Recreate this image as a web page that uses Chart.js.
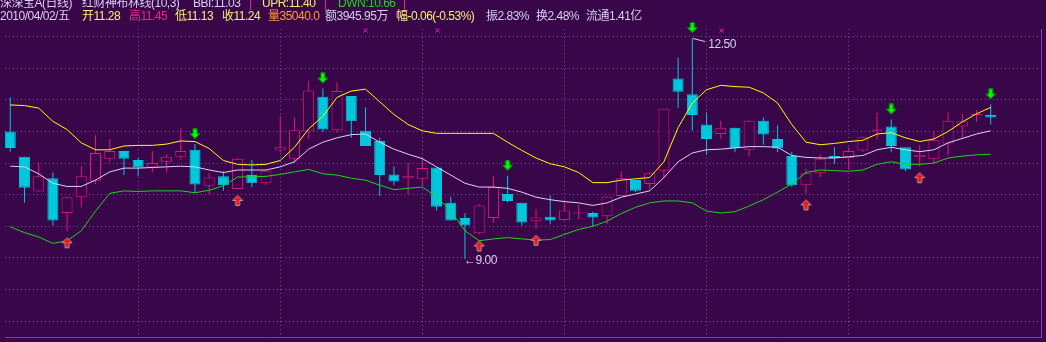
<!DOCTYPE html>
<html>
<head>
<meta charset="utf-8">
<script src="https://cdn.jsdelivr.net/npm/chart.js@4/dist/chart.umd.min.js"></script>
<style>
html, body { margin: 0; padding: 0; background: #39064a; }
#box { position: relative; width: 1046px; height: 342px; overflow: hidden; background: #39064a; }
#box canvas { position: absolute; left: 0; top: 0; }
.t { position: absolute; font: 12px "Liberation Sans", "Noto Sans CJK SC", sans-serif; line-height: 12px; white-space: nowrap; letter-spacing: -0.5px; }
.l1 { top: -3px; }
.l2 { top: 10px; }
.lav { color: #d8d0f0; }
.yel { color: #f4f070; }
.red { color: #e8287e; }
.org { color: #ff9a30; }
.grn { color: #10e010; }
.sep { color: #e0308a; }
</style>
</head>
<body>
<div id="box">
  <canvas id="kline" width="1046" height="342"></canvas>

  <div class="t l1 lav" style="left:0px">深深宝A(日线)</div>
  <div class="t l1 lav" style="left:82px">红财神布林线(10,3)</div>
  <div class="t l1 lav" style="left:193px">BBI:11.03</div>
  <div class="t l1 sep" style="left:249px">|</div>
  <div class="t l1 yel" style="left:262px">UPR:11.40</div>
  <div class="t l1 sep" style="left:324px">|</div>
  <div class="t l1 grn" style="left:338px">DWN:10.66</div>
  <div class="t l1 sep" style="left:403px">|</div>

  <div class="t l2 lav" style="left:0px">2010/04/02/五</div>
  <div class="t l2 yel" style="left:82px">开11.28</div>
  <div class="t l2 red" style="left:129px">高11.45</div>
  <div class="t l2 yel" style="left:175px">低11.13</div>
  <div class="t l2 yel" style="left:222px">收11.24</div>
  <div class="t l2 org" style="left:268px">量35040.0</div>
  <div class="t l2 lav" style="left:325px">额3945.95万</div>
  <div class="t l2 yel" style="left:396px">幅-0.06(-0.53%)</div>
  <div class="t l2 lav" style="left:486px">振2.83%</div>
  <div class="t l2 lav" style="left:536px">换2.48%</div>
  <div class="t l2 lav" style="left:586px">流通1.41亿</div>

  <div class="t lav" id="hiLabel"></div>
  <div class="t lav" id="loLabel"></div>
</div>

<script>
'use strict';

// daily candles, oldest first
const opens = [
  11.02, 10.62, 10.07, 10.28, 9.73, 9.98, 10.24, 10.59, 10.71, 10.57,
  10.45, 10.54, 10.62, 10.73, 10.16, 10.31, 10.11, 10.33, 10.20, 10.72,
  10.59, 11.02, 11.57, 11.04, 11.58, 11.03, 10.87, 10.34, 10.28, 10.27,
  10.45, 9.89, 9.65, 9.41, 9.65, 10.03, 9.89, 9.60, 9.67, 9.62,
  9.72, 9.73, 9.68, 10.00, 10.25, 10.19, 10.40, 11.86, 11.61, 11.13,
  10.98, 11.08, 10.73, 11.19, 10.90, 10.63, 10.17, 10.36, 10.63, 10.60,
  10.72, 11.03, 11.10, 10.77, 10.61, 10.58, 10.83, 11.10, 11.28, 11.28
];
const highs = [
  11.56, 10.62, 10.52, 10.37, 9.98, 10.47, 10.96, 10.90, 10.71, 10.60,
  10.71, 10.66, 11.07, 10.82, 10.37, 10.39, 10.60, 10.57, 10.40, 11.26,
  11.24, 11.82, 11.70, 11.80, 11.58, 11.40, 10.92, 10.47, 10.52, 10.62,
  10.45, 9.99, 9.73, 9.87, 10.31, 10.32, 9.89, 9.79, 10.01, 9.94,
  9.86, 9.75, 9.99, 10.39, 10.25, 10.38, 11.38, 12.19, 12.50, 11.32,
  11.19, 11.08, 11.20, 11.24, 11.12, 10.70, 10.43, 10.66, 10.77, 10.77,
  10.94, 11.32, 11.21, 10.77, 10.80, 11.03, 11.32, 11.30, 11.36, 11.45
];
const lows = [
  10.70, 9.89, 10.07, 9.53, 9.44, 9.82, 10.19, 10.54, 10.33, 10.31,
  10.37, 10.37, 10.57, 10.05, 10.03, 10.08, 10.11, 10.14, 10.17, 10.69,
  10.52, 10.90, 11.01, 11.00, 10.92, 10.79, 10.00, 10.17, 10.02, 10.17,
  9.77, 9.61, 9.00, 9.39, 9.57, 9.90, 9.53, 9.48, 9.55, 9.62,
  9.63, 9.51, 9.55, 10.00, 10.06, 10.10, 10.28, 11.39, 11.03, 10.65,
  10.90, 10.69, 10.62, 10.81, 10.69, 10.14, 10.04, 10.29, 10.51, 10.41,
  10.70, 10.90, 10.69, 10.39, 10.47, 10.51, 10.64, 10.91, 11.17, 11.13
];
const closes = [
  10.76, 10.13, 10.31, 9.61, 9.98, 10.31, 10.68, 10.71, 10.59, 10.45,
  10.52, 10.62, 10.71, 10.18, 10.29, 10.17, 10.59, 10.20, 10.40, 10.77,
  11.04, 11.67, 11.05, 11.66, 11.18, 10.79, 10.33, 10.23, 10.32, 10.44,
  9.83, 9.61, 9.53, 9.85, 10.14, 9.92, 9.58, 9.66, 9.61, 9.77,
  9.72, 9.66, 9.99, 10.28, 10.08, 10.36, 11.38, 11.65, 11.28, 10.90,
  11.08, 10.76, 11.19, 10.97, 10.75, 10.17, 10.36, 10.59, 10.60, 10.71,
  10.93, 11.05, 10.79, 10.42, 10.65, 10.88, 11.19, 11.18, 11.30, 11.24
];

// 红财神布林线(10,3): UPR / BBI / DWN
const upr = [
  11.44, 11.43, 11.39, 11.18, 11.05, 10.84, 10.73, 10.73, 10.79, 10.80,
  10.80, 10.82, 10.87, 10.86, 10.75, 10.56, 10.50, 10.49, 10.50, 10.56,
  10.77, 11.06, 11.26, 11.56, 11.66, 11.69, 11.49, 11.29, 11.13, 11.03,
  10.99, 10.99, 10.99, 10.99, 10.99, 10.85, 10.72, 10.60, 10.51, 10.46,
  10.37, 10.21, 10.21, 10.25, 10.27, 10.29, 10.54, 11.08, 11.47, 11.68,
  11.75, 11.73, 11.72, 11.63, 11.47, 11.13, 10.85, 10.81, 10.83, 10.86,
  10.88, 10.98, 11.00, 10.92, 10.86, 10.90, 11.02, 11.17, 11.30, 11.40
];
const bbi = [
  10.47, 10.46, 10.35, 10.20, 10.15, 10.15, 10.25, 10.38, 10.44, 10.44,
  10.45, 10.46, 10.47, 10.46, 10.41, 10.37, 10.41, 10.41, 10.41, 10.46,
  10.54, 10.74, 10.85, 10.92, 10.97, 10.98, 10.85, 10.74, 10.66, 10.59,
  10.46, 10.33, 10.20, 10.14, 10.14, 10.12, 10.06, 9.98, 9.94, 9.91,
  9.89, 9.85, 9.89, 9.98, 10.03, 10.08, 10.29, 10.54, 10.68, 10.73,
  10.74, 10.76, 10.78, 10.78, 10.77, 10.64, 10.61, 10.60, 10.60, 10.62,
  10.64, 10.73, 10.77, 10.73, 10.70, 10.73, 10.84, 10.91, 10.98, 11.03
];
const dwn = [
  9.51, 9.42, 9.35, 9.25, 9.29, 9.45, 9.76, 10.04, 10.08, 10.07,
  10.08, 10.08, 10.08, 10.05, 10.09, 10.16, 10.30, 10.30, 10.31, 10.34,
  10.38, 10.42, 10.35, 10.33, 10.28, 10.25, 10.17, 10.10, 10.12, 10.14,
  9.99, 9.76, 9.45, 9.29, 9.32, 9.34, 9.32, 9.30, 9.31, 9.39,
  9.47, 9.52, 9.60, 9.72, 9.82, 9.89, 9.92, 9.92, 9.89, 9.76,
  9.73, 9.75, 9.84, 9.94, 10.06, 10.19, 10.37, 10.41, 10.40, 10.39,
  10.41, 10.50, 10.54, 10.50, 10.50, 10.52, 10.60, 10.63, 10.65, 10.66
];

// signal bars
const sellIdx = [13, 22, 35, 48, 62, 69];
const buyIdx = [4, 16, 33, 37, 56, 64];
const mineIdx = [25, 30, 50];

// horizontal grid levels and vertical grid bars
const priceGrid = [12.52, 12.02, 11.52, 11.02, 10.52, 10.02, 9.52, 9.02, 8.52, 8.02];
const barGrid = [9, 19, 29, 39, 49, 59];

const BG = '#39064a';
const UP = '#e6147a';
const DOWN = '#00c8dc';

const idx = opens.map((_, i) => i);
const isUp = idx.map(i => closes[i] >= opens[i]);

function arrowImage(up, fill, edge) {
    const c = document.createElement('canvas');
    c.width = 12;
    c.height = up ? 36 : 32;
    const g = c.getContext('2d');
    const y0 = up ? 24.5 : 0.5;
    g.beginPath();
    if (up) {
        g.moveTo(6, y0);
        g.lineTo(11, y0 + 5);
        g.lineTo(8, y0 + 5);
        g.lineTo(8, y0 + 10);
        g.lineTo(4, y0 + 10);
        g.lineTo(4, y0 + 5);
        g.lineTo(1, y0 + 5);
    } else {
        g.moveTo(4, y0);
        g.lineTo(8, y0);
        g.lineTo(8, y0 + 5);
        g.lineTo(11, y0 + 5);
        g.lineTo(6, y0 + 10);
        g.lineTo(1, y0 + 5);
        g.lineTo(4, y0 + 5);
    }
    g.closePath();
    g.fillStyle = fill;
    g.fill();
    g.lineWidth = 1;
    g.strokeStyle = edge;
    g.stroke();
    return c;
}

// high / low markers, info mines
const markers = {
    id: 'markers',
    afterDatasetsDraw(chart) {
        const {ctx, scales: {x, y}, chartArea} = chart;
        let hi = 0, lo = 0;
        idx.forEach(i => {
            if (highs[i] > highs[hi]) hi = i;
            if (lows[i] < lows[lo]) lo = i;
        });
        const hx = x.getPixelForValue(hi), hy = y.getPixelForValue(highs[hi]);
        const lx = x.getPixelForValue(lo), ly = y.getPixelForValue(lows[lo]);

        ctx.save();
        ctx.strokeStyle = '#d8d0f0';
        ctx.lineWidth = 1;
        ctx.beginPath();
        ctx.moveTo(Math.round(hx) + 1, Math.round(hy) + 0.5);
        ctx.lineTo(Math.round(hx) + 13, Math.round(hy) + 3.5);
        ctx.stroke();

        ctx.strokeStyle = '#ff00ff';
        const my = chartArea.top + 1.5;
        mineIdx.forEach(i => {
            const mx = Math.round(x.getPixelForValue(i)) + 0.5;
            ctx.beginPath();
            ctx.moveTo(mx - 2, my - 2); ctx.lineTo(mx + 2, my + 2);
            ctx.moveTo(mx + 2, my - 2); ctx.lineTo(mx - 2, my + 2);
            ctx.stroke();
        });
        ctx.restore();

        const hl = document.getElementById('hiLabel');
        hl.textContent = highs[hi].toFixed(2);
        hl.style.left = (hx + 16) + 'px';
        hl.style.top = (hy) + 'px';
        const ll = document.getElementById('loLabel');
        ll.textContent = '←' + lows[lo].toFixed(2);
        ll.style.left = (lx - 1) + 'px';
        ll.style.top = (ly - 5) + 'px';
    }
};

const ctx = document.getElementById('kline').getContext('2d');

new Chart(ctx, {
    type: 'bar',
    data: {
        datasets: [
            {
                type: 'scatter',
                data: sellIdx.map(i => ({x: i, y: highs[i]})),
                pointStyle: arrowImage(false, '#00ff00', '#008a00'),
                clip: false
            },
            {
                type: 'scatter',
                data: buyIdx.map(i => ({x: i, y: lows[i]})),
                pointStyle: arrowImage(true, '#ff1010', '#a8a0a0'),
                clip: false
            },
            {
                type: 'line',
                label: 'UPR',
                data: idx.map(i => ({x: i, y: upr[i]})),
                borderColor: '#ffff00',
                borderWidth: 1,
                pointRadius: 0,
                tension: 0
            },
            {
                type: 'line',
                label: 'BBI',
                data: idx.map(i => ({x: i, y: bbi[i]})),
                borderColor: '#dcd4f4',
                borderWidth: 1,
                pointRadius: 0,
                tension: 0
            },
            {
                type: 'line',
                label: 'DWN',
                data: idx.map(i => ({x: i, y: dwn[i]})),
                borderColor: '#18d818',
                borderWidth: 1,
                pointRadius: 0,
                tension: 0
            },
            {
                label: 'body',
                data: idx.map(i => ({x: i, y: [opens[i], closes[i]]})),
                backgroundColor: idx.map(i => isUp[i] ? (closes[i] === opens[i] ? UP : BG) : DOWN),
                borderColor: idx.map(i => isUp[i] ? UP : DOWN),
                borderWidth: 1,
                borderSkipped: false,
                barThickness: 11,
                minBarLength: 1,
                inflateAmount: 0,
                grouped: false
            },
            {
                label: 'wick',
                data: idx.map(i => ({x: i, y: [lows[i], highs[i]]})),
                backgroundColor: idx.map(i => isUp[i] ? UP : DOWN),
                borderWidth: 0,
                barThickness: 1,
                inflateAmount: 0,
                grouped: false
            }
        ]
    },
    options: {
        responsive: false,
        animation: false,
        events: [],
        layout: {padding: {top: 29, bottom: 3, left: 0, right: 1}},
        plugins: {legend: {display: false}, tooltip: {enabled: false}},
        scales: {
            x: {
                type: 'linear',
                offset: false,
                min: -0.37,
                max: 72.538,
                afterBuildTicks: s => { s.ticks = barGrid.map(v => ({value: v})); },
                ticks: {display: false},
                grid: {color: '#8a3cb4', drawTicks: false, offset: false},
                border: {display: true, color: '#9c2c9c', dash: [1, 3]}
            },
            y: {
                type: 'linear',
                position: 'right',
                min: 7.7673,
                max: 12.6415,
                afterBuildTicks: s => { s.ticks = priceGrid.map(v => ({value: v})); },
                ticks: {display: false},
                grid: {color: '#8a3cb4', drawTicks: false},
                border: {display: true, color: '#8a3cb4', dash: [1, 3]}
            }
        }
    },
    plugins: [markers]
});
</script>
</body>
</html>
